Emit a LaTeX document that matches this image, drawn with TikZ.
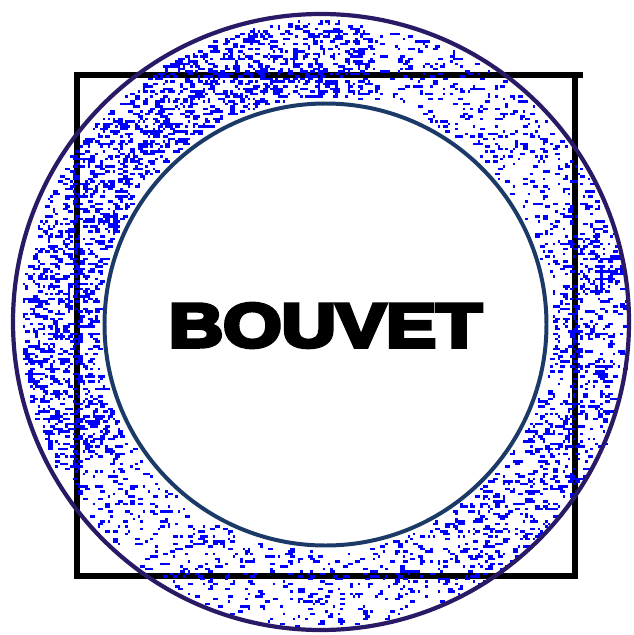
\documentclass[tikz,border=0pt]{standalone}
\usepackage{fontspec,graphicx}
\newfontfamily\bouvetfont[FakeBold=6]{Liberation Sans}
\definecolor{ringpurple}{HTML}{2A1A66}
\definecolor{ringnavy}{HTML}{1B3A68}
\definecolor{speckle}{HTML}{0000FF}

\begin{document}
\begin{tikzpicture}[x=0.03cm,y=-0.03cm,frame/.style={draw=black,line width=5.2pt},outerring/.style={draw=ringpurple,line width=3.6pt},innerring/.style={draw=ringnavy,line width=3.4pt},dot/.style={fill=speckle}]
\useasboundingbox[fill=white] (0,0) rectangle (633,635);
\coordinate (outerc) at (321,322);
\coordinate (innerc) at (325.5,324.5);
\draw[frame] (583,75) -- (77,75) -- (77,576) -- (575,576) -- (575,75);
\pgfmathsetseed{1795}
\foreach \n/\from/\span in {2300/0/360,1500/150/130,400/340/80}{
  \foreach \i in {1,...,\n}{
    \pgfmathsetmacro\ang{\from+rnd*\span}
    \pgfmathsetmacro\rad{100*sqrt(2.27^2+rnd*(3.03^2-2.27^2))}
    \pgfmathsetmacro\px{2.5*round((323+\rad*cos(\ang))/2.5)}
    \pgfmathsetmacro\py{2.5*round((323+\rad*sin(\ang))/2.5)}
    \pgfmathsetmacro\wd{2.5*(1+int(rnd*2))}
    \fill[dot] (\px,\py) rectangle ++(\wd,2.5);
  }
}
\draw[outerring] (outerc) circle[radius=308];
\draw[innerring] (innerc) circle[radius=221];
\node[font=\bouvetfont\bfseries\fontsize{53}{53}\selectfont,inner sep=0pt] (name) at (325.5,325.5) {\scalebox{1.21}[1]{BOUVET}};
\end{tikzpicture}
\end{document}
